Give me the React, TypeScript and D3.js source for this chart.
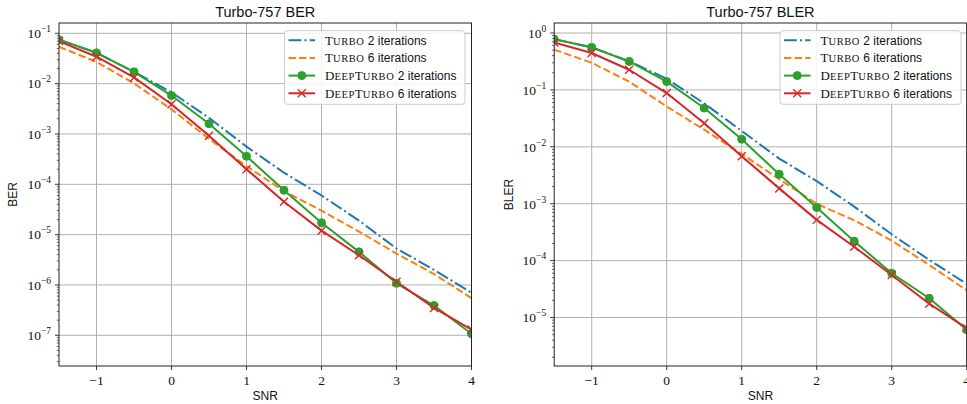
import React from "react";
import * as d3 from "d3";

const snr = [-1.5, -1, -0.5, 0, 0.5, 1, 1.5, 2, 2.5, 3, 3.5, 4];

const berTurbo2 = [0.075, 0.041, 0.0172, 0.0067, 0.0021, 5.6e-4, 1.7e-4, 6.0e-5, 1.9e-5, 5.3e-6, 2.0e-6, 7.0e-7];
const berTurbo6 = [0.054, 0.027, 0.0101, 0.0031, 8.0e-4, 2.3e-4, 7.3e-5, 3.0e-5, 1.15e-5, 4.2e-6, 1.65e-6, 5.5e-7];
const berDeep2 = [0.0746, 0.041, 0.0172, 0.0058, 0.0016, 3.6e-4, 7.6e-5, 1.72e-5, 4.55e-6, 1.08e-6, 3.9e-7, 1.07e-7];
const berDeep6 = [0.07, 0.0343, 0.0133, 0.0039, 9.2e-4, 2.0e-4, 4.5e-5, 1.2e-5, 3.9e-6, 1.16e-6, 3.5e-7, 1.3e-7];

const blerTurbo2 = [0.78, 0.56, 0.32, 0.157, 0.058, 0.019, 0.0062, 0.0025, 8.9e-4, 2.9e-4, 1.03e-4, 3.9e-5];
const blerTurbo6 = [0.51, 0.3, 0.14, 0.051, 0.02, 0.0075, 0.0027, 0.001, 5.1e-4, 2.25e-4, 8.4e-5, 3.0e-5];
const blerDeep2 = [0.78, 0.56, 0.316, 0.14, 0.048, 0.0136, 0.0033, 8.6e-4, 2.2e-4, 6.0e-5, 2.18e-5, 6.1e-6];
const blerDeep6 = [0.68, 0.445, 0.226, 0.088, 0.026, 0.0068, 0.00186, 5.2e-4, 1.75e-4, 5.6e-5, 1.75e-5, 6.5e-6];

const xTicks = [-1, 0, 1, 2, 3, 4];
const berYTicks = [-7, -6, -5, -4, -3, -2, -1];
const blerYTicks = [-5, -4, -3, -2, -1, 0];

const legendNames = [
  { sc: ["T", "URBO"], rest: "2 iterations" },
  { sc: ["T", "URBO"], rest: "6 iterations" },
  { sc: ["D", "EEP", "T", "URBO"], rest: "2 iterations" },
  { sc: ["D", "EEP", "T", "URBO"], rest: "6 iterations" },
];

const colors = ["#1f77b4", "#ff7f0e", "#2ca02c", "#d62728"];
const dashes = ["12.8,3.2,2,3.2", "7.4,3.2", null, null];
const markers = [null, null, "circle", "x"];

const SANS = "'Liberation Sans', Arial, Helvetica, sans-serif";
const SERIF = "'Liberation Serif', 'Times New Roman', serif";

type PanelProps = {
  id: string;
  title: string;
  ylabel: string;
  series: number[][];
  yDomain: [number, number];
  yTicks: number[];
  left: number;
  right: number;
  top: number;
  bottom: number;
  legend: { x: number; y: number; w: number; h: number };
  ylabelX: number;
};

function Marker({ kind, x, y, color }: { kind: string | null; x: number; y: number; color: string }) {
  if (kind === "circle") return <circle cx={x} cy={y} r={4} fill={color} stroke={color} strokeWidth={1} />;
  if (kind === "x") {
    const s = 4;
    return (
      <path d={`M${x - s},${y - s}L${x + s},${y + s}M${x - s},${y + s}L${x + s},${y - s}`} stroke={color} strokeWidth={1.4} fill="none" />
    );
  }
  return null;
}

function SCName({ parts }: { parts: string[] }) {
  return (
    <>
      {parts.map((p, i) => (
        <tspan key={i} fontFamily={SERIF} fontSize={i % 2 === 0 ? 13 : 10.5} letterSpacing={i % 2 === 0 ? 0 : 0.6}>
          {p}
        </tspan>
      ))}
    </>
  );
}

function Panel(p: PanelProps) {
  const x = d3.scaleLinear().domain([-1.5, 4]).range([p.left, p.right]);
  const y = d3.scaleLog().domain(p.yDomain).range([p.bottom, p.top]);
  const line = d3
    .line<number>()
    .x((_, i) => x(snr[i]))
    .y((d) => y(d));

  const minor: number[] = [];
  const lo = Math.floor(Math.log10(p.yDomain[0]));
  const hi = Math.ceil(Math.log10(p.yDomain[1]));
  for (let e = lo; e <= hi; e++) {
    for (let m = 2; m <= 9; m++) {
      const v = m * Math.pow(10, e);
      if (v >= p.yDomain[0] && v <= p.yDomain[1]) minor.push(v);
    }
  }
  const clipId = `clip-${p.id}`;
  const cx = (p.left + p.right) / 2;
  const cy = (p.top + p.bottom) / 2;
  const lg = p.legend;
  const rowH = 17.7;

  return (
    <g>
      <defs>
        <clipPath id={clipId}>
          <rect x={p.left} y={p.top} width={p.right - p.left} height={p.bottom - p.top} />
        </clipPath>
      </defs>
      <rect x={p.left} y={p.top} width={p.right - p.left} height={p.bottom - p.top} fill="white" />
      {/* grid */}
      {xTicks.map((t) => (
        <line key={`gx${t}`} x1={x(t)} x2={x(t)} y1={p.top} y2={p.bottom} stroke="#b0b0b0" strokeWidth={1} />
      ))}
      {p.yTicks.map((t) => (
        <line key={`gy${t}`} x1={p.left} x2={p.right} y1={y(Math.pow(10, t))} y2={y(Math.pow(10, t))} stroke="#b0b0b0" strokeWidth={1} />
      ))}
      {/* series */}
      <g clipPath={`url(#${clipId})`}>
        {p.series.map((s, si) => (
          <path
            key={`s${si}`}
            d={line(s) || ""}
            fill="none"
            stroke={colors[si]}
            strokeWidth={2}
            strokeDasharray={dashes[si] || undefined}
            strokeLinejoin="round"
          />
        ))}
        {p.series.map((s, si) =>
          s.map((v, i) => <Marker key={`m${si}-${i}`} kind={markers[si]} x={x(snr[i])} y={y(v)} color={colors[si]} />)
        )}
      </g>
      {/* spines */}
      <rect x={p.left} y={p.top} width={p.right - p.left} height={p.bottom - p.top} fill="none" stroke="#222" strokeWidth={1} />
      {/* x ticks */}
      {xTicks.map((t) => (
        <g key={`xt${t}`}>
          <line x1={x(t)} x2={x(t)} y1={p.bottom} y2={p.bottom + 4} stroke="#222" strokeWidth={0.9} />
          <text x={x(t)} y={p.bottom + 18.5} textAnchor="middle" fontFamily={SERIF} fontSize={13.5} fill="#111">
            {t < 0 ? `\u2212${Math.abs(t)}` : `${t}`}
          </text>
        </g>
      ))}
      {/* y ticks */}
      {minor.map((v, i) => (
        <line key={`ym${i}`} x1={p.left - 2.2} x2={p.left} y1={y(v)} y2={y(v)} stroke="#222" strokeWidth={0.7} />
      ))}
      {p.yTicks.map((t) => (
        <g key={`yt${t}`}>
          <line x1={p.left - 4} x2={p.left} y1={y(Math.pow(10, t))} y2={y(Math.pow(10, t))} stroke="#222" strokeWidth={0.9} />
          <text x={p.left - 8} y={y(Math.pow(10, t)) + 4.8} textAnchor="end" fontFamily={SERIF} fontSize={13.5} fill="#111">
            10
            <tspan dy={-6} fontSize={9.5}>
              {t < 0 ? `\u2212${Math.abs(t)}` : `${t}`}
            </tspan>
          </text>
        </g>
      ))}
      {/* title & labels */}
      <text x={cx} y={16.7} textAnchor="middle" fontFamily={SANS} fontSize={14.5} fill="#111">
        {p.title}
      </text>
      <text x={cx} y={399.5} textAnchor="middle" fontFamily={SANS} fontSize={12} fill="#111">
        SNR
      </text>
      <text
        transform={`translate(${p.ylabelX},${cy}) rotate(-90)`}
        textAnchor="middle"
        fontFamily={SANS}
        fontSize={12}
        fill="#111"
      >
        {p.ylabel}
      </text>
      {/* legend */}
      <rect x={lg.x} y={lg.y} width={lg.w} height={lg.h} rx={3} fill="white" fillOpacity={0.85} stroke="#cccccc" strokeWidth={1} />
      {legendNames.map((n, i) => {
        const ry = lg.y + 9.5 + i * rowH;
        const hx0 = lg.x + 4;
        const hx1 = lg.x + 30.5;
        return (
          <g key={`lg${i}`}>
            <line x1={hx0} x2={hx1} y1={ry} y2={ry} stroke={colors[i]} strokeWidth={2} strokeDasharray={dashes[i] || undefined} />
            <Marker kind={markers[i]} x={(hx0 + hx1) / 2} y={ry} color={colors[i]} />
            <text x={lg.x + 40.5} y={ry + 4.3} fontFamily={SANS} fontSize={12} fill="#111">
              <SCName parts={n.sc} />
              <tspan fontFamily={SANS} fontSize={12}>{" " + n.rest}</tspan>
            </text>
          </g>
        );
      })}
    </g>
  );
}

export default function App() {
  return (
    <svg width={967} height={404} style={{ position: "absolute", left: 0, top: 0, display: "block" }}>
      <rect x={0} y={0} width={967} height={404} fill="white" />
      <Panel
        id="ber"
        title="Turbo-757 BER"
        ylabel="BER"
        series={[berTurbo2, berTurbo6, berDeep2, berDeep6]}
        yDomain={[Math.pow(10, -7.61), Math.pow(10, -0.795)]}
        yTicks={berYTicks}
        left={59}
        right={471.5}
        top={23}
        bottom={366}
        legend={{ x: 284.5, y: 30.7, w: 180.5, h: 73.6 }}
        ylabelX={17}
      />
      <Panel
        id="bler"
        title="Turbo-757 BLER"
        ylabel="BLER"
        series={[blerTurbo2, blerTurbo6, blerDeep2, blerDeep6]}
        yDomain={[Math.pow(10, -5.852), Math.pow(10, 0.176)]}
        yTicks={blerYTicks}
        left={554.2}
        right={966.7}
        top={23}
        bottom={366}
        legend={{ x: 780, y: 30.7, w: 181, h: 73.6 }}
        ylabelX={512.5}
      />
    </svg>
  );
}
